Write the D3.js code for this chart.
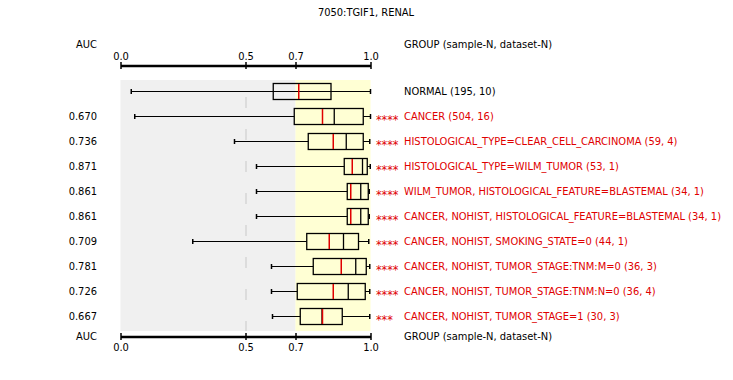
<!DOCTYPE html>
<html><head><meta charset="utf-8">
<script src="https://cdn.jsdelivr.net/npm/d3@7"></script>
<style>
body{margin:0;background:#fff;}
svg text{font-family:"DejaVu Sans Condensed","DejaVu Sans",sans-serif;font-stretch:condensed;font-size:11px;}
</style></head>
<body><svg id="c" width="733" height="380"></svg>
<script>
const title = "7050:TGIF1, RENAL";
const groups = ["NORMAL (195, 10)","CANCER (504, 16)","HISTOLOGICAL_TYPE=CLEAR_CELL_CARCINOMA (59, 4)","HISTOLOGICAL_TYPE=WILM_TUMOR (53, 1)","WILM_TUMOR, HISTOLOGICAL_FEATURE=BLASTEMAL (34, 1)","CANCER, NOHIST, HISTOLOGICAL_FEATURE=BLASTEMAL (34, 1)","CANCER, NOHIST, SMOKING_STATE=0 (44, 1)","CANCER, NOHIST, TUMOR_STAGE:TNM:M=0 (36, 3)","CANCER, NOHIST, TUMOR_STAGE:TNM:N=0 (36, 4)","CANCER, NOHIST, TUMOR_STAGE=1 (30, 3)"];
const aucLabels = ["","0.670","0.736","0.871","0.861","0.861","0.709","0.781","0.726","0.667"];
const stars = ["","****","****","****","****","****","****","****","****","***"];
const isControl = [true,false,false,false,false,false,false,false,false,false];
const whiskLo = [0.043,0.057,0.456,0.544,0.544,0.544,0.289,0.604,0.604,0.608];
const q1 =      [0.611,0.695,0.751,0.895,0.907,0.907,0.745,0.771,0.707,0.719];
const median =  [0.713,0.808,0.851,0.927,0.921,0.921,0.835,0.883,0.851,0.808];
const mark2 =   [null, 0.855,0.903,0.968,0.961,0.961,0.892,0.941,0.911,0.806];
const q3 =      [0.842,0.971,0.971,0.987,0.991,0.991,0.952,0.983,0.979,0.887];
const whiskHi = [1.0,1.0,0.997,0.999,0.995,0.995,0.993,0.997,0.997,0.997];
const ticks = [0.0,0.5,0.7,1.0];
const threshold = 0.7;

const svg = d3.select("#c");
const x = d3.scaleLinear().domain([0,1]).range([120.5,370.5]);
const y = d3.scaleBand().domain(d3.range(groups.length)).range([78,328]).paddingInner(0.36).paddingOuter(0.18);
const bh = 16;
const cy = i => y(i) + y.bandwidth()/2;

svg.append("text").attr("x",366).attr("y",16).attr("text-anchor","middle").text(title);

// backgrounds
svg.append("rect").attr("x",x(0)).attr("y",80).attr("width",x(threshold)-x(0)).attr("height",251).attr("fill","#f0f0f0");
svg.append("rect").attr("x",x(threshold)).attr("y",80).attr("width",x(1)-x(threshold)).attr("height",251).attr("fill","#ffffd4");
svg.append("line").attr("x1",Math.round(x(0.5))).attr("x2",Math.round(x(0.5))).attr("y1",97).attr("y2",331)
  .attr("stroke","#c8c8c8").attr("stroke-width",1).attr("stroke-dasharray","11,21");

// axes
function drawAxis(yPos, orient){
  const ax = (orient==="top"?d3.axisTop(x):d3.axisBottom(x)).tickValues(ticks).tickFormat(d3.format(".1f")).tickSizeInner(0).tickSizeOuter(0).tickPadding(orient==="top"?6:7);
  const g = svg.append("g").attr("transform",`translate(0,${yPos})`).call(ax);
  g.select(".domain").attr("stroke","#000").attr("stroke-width",2.5);
  g.selectAll(".tick line").attr("y1",-3.5).attr("y2",3.5).attr("stroke","#000").attr("stroke-width",1.5);
  g.selectAll(".tick text").attr("fill","#000");
  g.attr("font-family",null).attr("font-size",null);
}
drawAxis(65.5,"top");
drawAxis(336.5,"bottom");

svg.append("text").attr("x",97).attr("y",48).attr("text-anchor","end").text("AUC");
svg.append("text").attr("x",404).attr("y",48).text("GROUP (sample-N, dataset-N)");
svg.append("text").attr("x",97).attr("y",340).attr("text-anchor","end").text("AUC");
svg.append("text").attr("x",404).attr("y",340).text("GROUP (sample-N, dataset-N)");

const rows = svg.selectAll("g.row").data(groups).join("g").attr("class","row");
rows.each(function(d,i){
  const g = d3.select(this);
  const c = Math.round(cy(i));
  g.append("line").attr("x1",x(whiskLo[i])).attr("x2",x(whiskHi[i])).attr("y1",c+0.5).attr("y2",c+0.5).attr("stroke","#000");
  [whiskLo[i],whiskHi[i]].forEach(v=>g.append("line").attr("x1",x(v)).attr("x2",x(v)).attr("y1",c-2).attr("y2",c+3).attr("stroke","#000").attr("stroke-width",1.5));
  g.append("rect").attr("x",x(q1[i])).attr("y",c-7.5).attr("width",x(q3[i])-x(q1[i])).attr("height",bh)
    .attr("fill",isControl[i]?"none":"#ffffd4").attr("stroke","#000").attr("stroke-width",1.3);
  if(mark2[i]!==null) g.append("line").attr("x1",x(mark2[i])).attr("x2",x(mark2[i])).attr("y1",c-7.5).attr("y2",c+8.5).attr("stroke","#000").attr("stroke-width",1.3);
  g.append("line").attr("x1",x(median[i])).attr("x2",x(median[i])).attr("y1",c-7).attr("y2",c+8).attr("stroke","#e00000").attr("stroke-width",1.5);
  g.append("text").attr("x",97).attr("y",c+4).attr("text-anchor","end").text(aucLabels[i]);
  g.append("text").attr("x",376).attr("y",c+7.5).attr("fill","#e00000").style("font-size","12.5px").text(stars[i]);
  g.append("text").attr("x",404).attr("y",c+4).attr("fill",isControl[i]?"#000":"#e00000").text(d);
});
</script></body></html>
